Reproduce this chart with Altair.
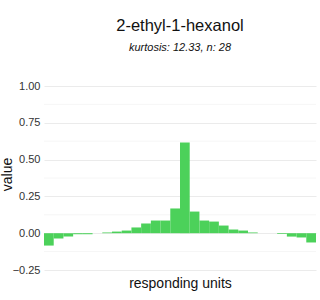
import altair as alt
import pandas as pd

units = list(range(1, 29))
values = [-0.084, -0.036, -0.023, -0.007, -0.007, 0.0, 0.005, 0.011, 0.018, 0.039,
          0.066, 0.086, 0.086, 0.168, 0.617, 0.147, 0.086, 0.079, 0.052, 0.025,
          0.018, 0.005, 0.0, 0.0, -0.005, -0.023, -0.029, -0.063]
major_ticks = [-0.25, 0.0, 0.25, 0.5, 0.75, 1.0]
minor_ticks = [-0.125, 0.125, 0.375, 0.625, 0.875]

df = pd.DataFrame({"unit": units, "value": values})
minor_df = pd.DataFrame({"v": minor_ticks})

yscale = alt.Scale(domain=[-0.25, 1.0], nice=False, zero=False)
yaxis = alt.Axis(values=major_ticks, format=".2f", ticks=False, domain=False,
                 grid=True, gridColor="#ebebeb", gridWidth=1,
                 labelFontSize=11, labelColor="#333333", labelPadding=4,
                 labelFont="Liberation Sans",
                 title="value", titleFontSize=14, titleFontWeight="normal",
                 titleColor="#111111", titleFont="Liberation Sans",
                 titleAngle=-90, titleX=-33, titleY=88,
                 titleAlign="center", titleBaseline="alphabetic")

minor = alt.Chart(minor_df).mark_rule(color="#f6f6f6", strokeWidth=1).encode(
    y=alt.Y("v:Q", scale=yscale, axis=yaxis, title="value")
)

bars = alt.Chart(df).mark_bar(color="#4CD15A").encode(
    x=alt.X("unit:O", scale=alt.Scale(paddingInner=0, paddingOuter=0),
            axis=alt.Axis(labels=False, ticks=False, domain=False, grid=False,
                          title="responding units", titleFontSize=14,
                          titleFontWeight="normal", titleColor="#111111",
                          titlePadding=6, titleFont="Liberation Sans")),
    y=alt.Y("value:Q", scale=yscale, axis=yaxis, title="value"),
)

chart = alt.layer(minor, bars).properties(
    width=272,
    height=184,
    background="white",
    title=alt.TitleParams(
        text="2-ethyl-1-hexanol",
        subtitle="kurtosis: 12.33, n: 28",
        fontSize=16.5, fontWeight="normal", font="Liberation Sans", color="#111111",
        subtitleFontSize=11, subtitleFontStyle="italic", subtitleFont="Liberation Sans",
        subtitleColor="#111111", subtitlePadding=8,
        anchor="middle", offset=27,
    ),
    autosize=alt.AutoSizeParams(type="none"),
    padding={"left": 44, "top": 86, "right": 4, "bottom": 30},
).configure_view(stroke=None)

chart.save("out.html", embed_options={"renderer": "svg", "actions": False})
